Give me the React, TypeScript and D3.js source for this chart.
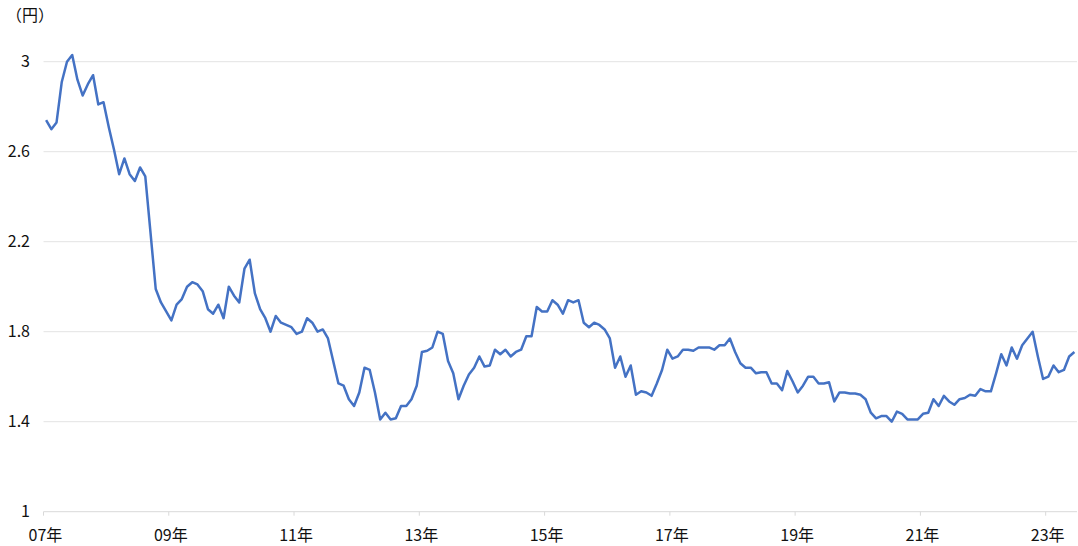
import React from "react";
import * as d3 from "d3";

const values: number[] = [
  2.74, 2.70, 2.73, 2.91, 3.00, 3.03, 2.92, 2.85, 2.90, 2.94, 2.81, 2.82,
  2.71, 2.61, 2.50, 2.57, 2.50, 2.47, 2.53, 2.49, 2.24, 1.99, 1.93, 1.89,
  1.85, 1.92, 1.945, 2.00, 2.02, 2.01, 1.98, 1.90, 1.88, 1.92, 1.86, 2.00,
  1.96, 1.93, 2.08, 2.12, 1.97, 1.90, 1.86, 1.80, 1.87, 1.84, 1.83, 1.82,
  1.79, 1.80, 1.86, 1.84, 1.80, 1.81, 1.77, 1.67, 1.57, 1.56, 1.50, 1.47,
  1.53, 1.64, 1.63, 1.53, 1.41, 1.44, 1.41, 1.415, 1.47, 1.47, 1.50, 1.56,
  1.71, 1.715, 1.73, 1.80, 1.79, 1.67, 1.615, 1.50, 1.56, 1.61, 1.64, 1.69,
  1.645, 1.65, 1.72, 1.70, 1.72, 1.69, 1.71, 1.72, 1.78, 1.78, 1.91, 1.89,
  1.89, 1.94, 1.92, 1.88, 1.94, 1.93, 1.94, 1.84, 1.82, 1.84, 1.83, 1.81,
  1.77, 1.64, 1.69, 1.60, 1.65, 1.52, 1.535, 1.53, 1.515, 1.57, 1.63, 1.72,
  1.68, 1.69, 1.72, 1.72, 1.715, 1.73, 1.73, 1.73, 1.72, 1.74, 1.74, 1.77,
  1.71, 1.66, 1.64, 1.64, 1.615, 1.62, 1.62, 1.57, 1.57, 1.54, 1.625, 1.58,
  1.53, 1.56, 1.60, 1.60, 1.57, 1.57, 1.575, 1.49, 1.53, 1.53, 1.525, 1.525,
  1.52, 1.50, 1.44, 1.415, 1.425, 1.425, 1.40, 1.445, 1.435, 1.41, 1.41, 1.41,
  1.435, 1.44, 1.50, 1.47, 1.515, 1.49, 1.475, 1.50, 1.505, 1.52, 1.515, 1.545,
  1.535, 1.535, 1.615, 1.70, 1.65, 1.73, 1.68, 1.74, 1.77, 1.80, 1.69, 1.59,
  1.60, 1.65, 1.62, 1.63, 1.69, 1.71,
];

const startYear = 2007;
const months: string[] = values.map((_, i) => {
  const y = startYear + Math.floor(i / 12);
  const m = (i % 12) + 1;
  return `${y}-${String(m).padStart(2, "0")}`;
});

const yTicks: number[] = [1, 1.4, 1.8, 2.2, 2.6, 3];
const xLabelYears: number[] = [2007, 2009, 2011, 2013, 2015, 2017, 2019, 2021, 2023];
const unitLabel = "（円）";

const W = 1078;
const H = 546;
const left = 43.5;
const right = 1077;
const top = 61.7;
const bottom = 511.7;
const FONT = "'Noto Sans CJK JP', 'Noto Sans', sans-serif";

export default function App() {
  const x = d3.scaleBand<string>().domain(months).range([left, right]).padding(0);
  const y = d3.scaleLinear().domain([1, 3]).range([bottom, top]);
  const line = d3
    .line<number>()
    .x((_, i) => (x(months[i]) as number) + x.bandwidth() / 2)
    .y((d) => y(d));

  return (
    <svg width={W} height={H} style={{ position: "absolute", left: 0, top: 0, background: "#fff" }}>
      <text x={6} y={21} fontSize={16} fontFamily={FONT} fill="#111">
        {unitLabel}
      </text>
      {yTicks.map((t) => (
        <g key={t}>
          {t !== 1 && (
            <line x1={left} x2={right} y1={y(t)} y2={y(t)} stroke="#e3e3e3" strokeWidth={1} />
          )}
          <text
            x={30}
            y={y(t)}
            dy="0.35em"
            textAnchor="end"
            fontSize={16}
            fontFamily={FONT}
            fill="#111"
          >
            {String(t)}
          </text>
        </g>
      ))}
      <line x1={left} x2={right} y1={bottom} y2={bottom} stroke="#d9d9d9" strokeWidth={1} />
      {xLabelYears.map((yr) => {
        const key = `${yr}-01`;
        const xp = x(key) as number;
        return (
          <g key={yr}>
            <line x1={xp} x2={xp} y1={bottom} y2={bottom + 4} stroke="#d9d9d9" strokeWidth={1} />
            <text
              x={xp + 2}
              y={541}
              textAnchor="middle"
              fontSize={16}
              fontFamily={FONT}
              fill="#111"
            >
              {`${String(yr % 100).padStart(2, "0")}年`}
            </text>
          </g>
        );
      })}
      <path d={line(values) || ""} fill="none" stroke="#4472C4" strokeWidth={2.5} strokeLinejoin="round" />
    </svg>
  );
}
